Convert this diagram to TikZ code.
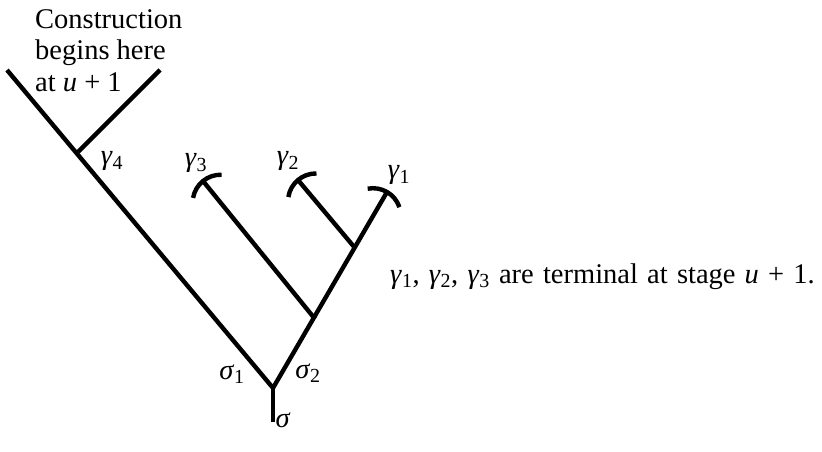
\documentclass[tikz,border=0pt]{standalone}
\usepackage{fontspec}
\setmainfont{Liberation Serif}
\usetikzlibrary{calc}
\newcommand{\gam}[1]{\textit{γ}\textsubscript{#1}}
\tikzset{
  branch/.style={line width=4.4pt},
  lbl/.style={inner sep=0pt, font=\fontsize{28.5}{31.5}\selectfont},
}
\begin{document}
\begin{tikzpicture}[x=1pt,y=1pt]
\useasboundingbox (0,0) rectangle (822,-452);
% points (image coords x, -y)
\coordinate (root) at (273,-422);
\coordinate (F) at (273,-388);
\coordinate (L) at (7,-70);
\coordinate (J4) at (78,-152);
\coordinate (E4) at (160,-70);
\coordinate (J3) at (315,-319);
\coordinate (E3) at (203,-181);
\coordinate (J2) at (355,-248);
\coordinate (E2) at (298,-180);
\coordinate (E1) at (387,-192);
% lines
\draw[branch] (root) -- (F);
\draw[branch] (F) -- (L);
\draw[branch] (J4) -- (E4);
\draw[branch] (F) -- (E1);
\draw[branch] (J3) -- (E3);
\draw[branch] (J2) -- (E2);
% terminal arcs
\draw[branch] ($(E3)+(129.1+41:28)-(129.1:28)$) arc[start angle=170.1, end angle=88.1, radius=28];
\draw[branch] ($(E2)+(130+41:28)-(130:28)$) arc[start angle=171, end angle=89, radius=28];
\draw[branch] ($(E1)+(59.8+41:28)-(59.8:28)$) arc[start angle=100.8, end angle=18.8, radius=28];
% labels
\node[lbl, anchor=north west, align=left] (title) at (35,-9.4) {Construction\\begins here\\at \textit{u} + 1};
\node[lbl] (g4) at (112,-161) {\gam{4}};
\node[lbl] (g3) at (196,-163) {\gam{3}};
\node[lbl] (g2) at (288,-161) {\gam{2}};
\node[lbl] (g1) at (399,-175) {\gam{1}};
\node[lbl] (s1) at (232,-374) {\textit{σ}\textsubscript{1}};
\node[lbl] (s2) at (308,-373) {\textit{σ}\textsubscript{2}};
\node[lbl] (s) at (283,-420) {\textit{σ}};
\node[lbl, anchor=base west] (note) at (390,-283) {\spaceskip=9.2pt\gam{1}, \gam{2}, \gam{3} are terminal at stage \textit{u} + 1.};
\end{tikzpicture}
\end{document}
